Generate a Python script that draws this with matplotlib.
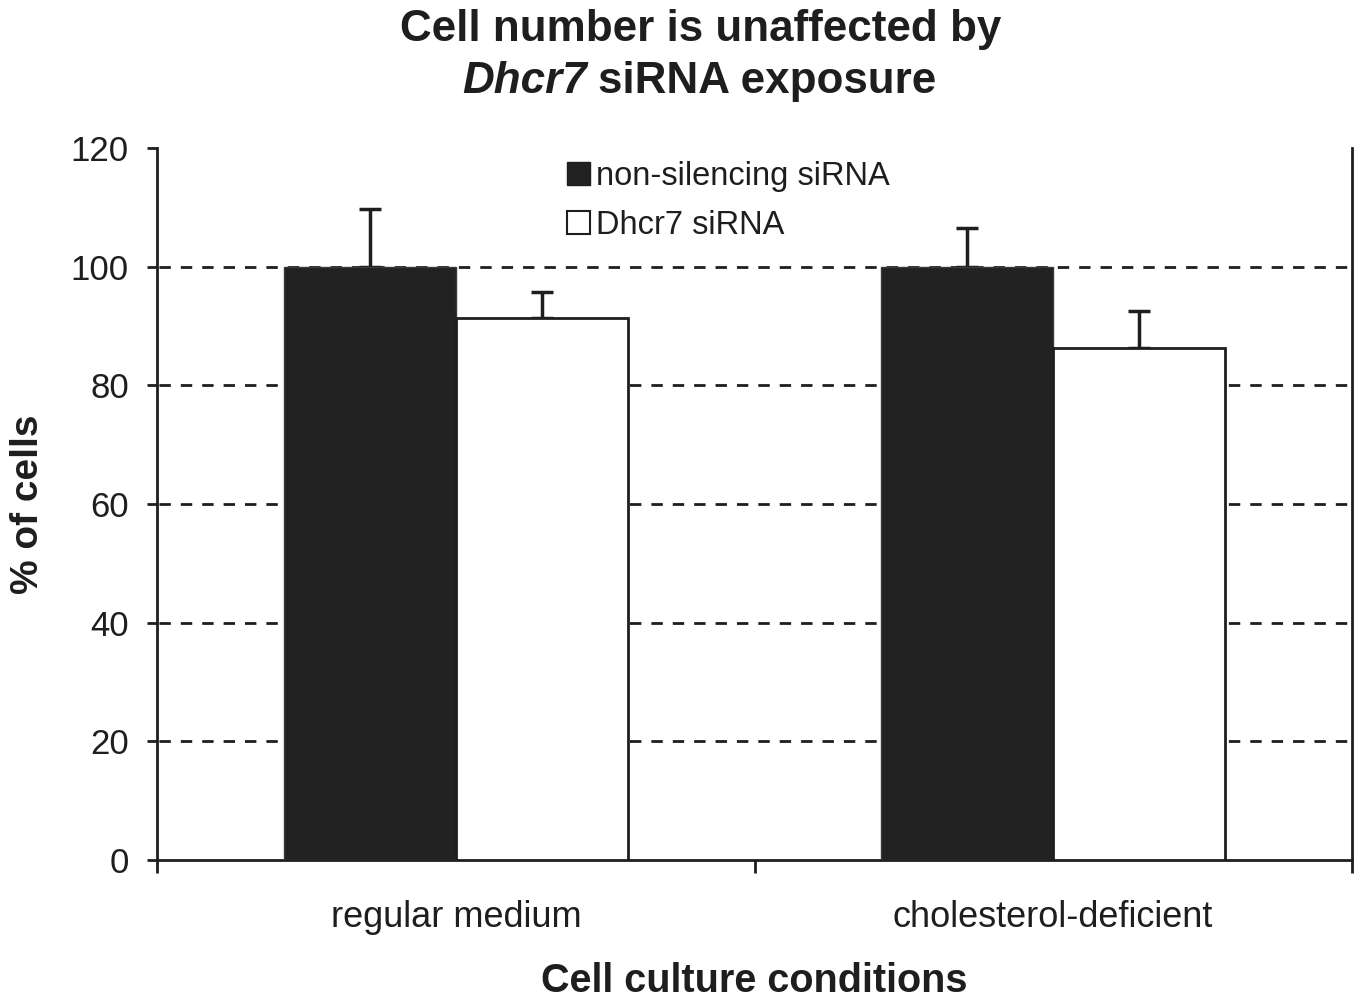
import matplotlib
matplotlib.use("Agg")
import matplotlib.pyplot as plt
from matplotlib.patches import Patch
import numpy as np

# values (% of cells)
conditions = ["regular medium", "cholesterol-deficient"]
series_names = ["non-silencing siRNA", "Dhcr7 siRNA"]
nonsilencing = [100.0, 100.0]
nonsilencing_err = [9.8, 6.6]
dhcr7 = [91.3, 86.3]
dhcr7_err = [4.4, 6.3]
yticks = [0, 20, 40, 60, 80, 100, 120]

plt.rcParams['font.family'] = ['Liberation Sans', 'DejaVu Sans']
ink = '#1e1e1e'
bar_black = '#222222'

fig = plt.figure(figsize=(13.6, 10.02), dpi=100)
ax = fig.add_axes([157.3/1360, 1-860/1002, (1351.7-157.3)/1360, (860-148)/1002])

x = np.arange(len(conditions)) + 0.5
w = 0.288

ax.bar(x - w/2, nonsilencing, w, color=bar_black, edgecolor='#3a3a3a', linewidth=1, zorder=3,
       yerr=[[0]*len(x), nonsilencing_err], capsize=8,
       error_kw=dict(ecolor=ink, elinewidth=2.5, capthick=2.5, zorder=2))
ax.bar(x + w/2, dhcr7, w, color='white', edgecolor=ink, linewidth=2, zorder=3,
       yerr=[[0]*len(x), dhcr7_err], capsize=8,
       error_kw=dict(ecolor=ink, elinewidth=2.5, capthick=2.5, zorder=2))

# dashed gridlines (not at the top)
for yv in yticks[1:-1]:
    ax.axhline(yv, color=ink, linewidth=2, linestyle=(7, (4.1, 3.6)), zorder=1)

ax.set_xlim(0, 2)
ax.set_ylim(0, 120)
ax.set_yticks(yticks)
ax.tick_params(axis='y', direction='out', length=7.5, width=2, pad=13,
               labelsize=25, colors=ink)
ax.set_xticks([0, 1, 2])
ax.set_xticklabels([])
ax.tick_params(axis='x', which='major', direction='out', length=9, width=2, colors=ink)
ax.set_xticks(x, minor=True)
ax.set_xticklabels(conditions, minor=True)
ax.tick_params(axis='x', which='minor', length=0, pad=29, labelsize=26, colors=ink)

for side in ['left', 'bottom', 'right']:
    ax.spines[side].set_linewidth(2)
    ax.spines[side].set_color(ink)
ax.spines['top'].set_visible(False)

ax.set_ylabel('% of cells', fontsize=28, fontweight='bold', color=ink, labelpad=18)
ax.set_xlabel('Cell culture conditions', fontsize=28.5, fontweight='bold', color=ink, labelpad=19)

handles = [Patch(facecolor=bar_black, edgecolor=ink, linewidth=1),
           Patch(facecolor='white', edgecolor=ink, linewidth=1.5)]
leg = ax.legend(handles, series_names, loc='upper left',
                bbox_to_anchor=(567/1360, 1-161/1002), bbox_transform=fig.transFigure,
                frameon=False, fontsize=23.5, handlelength=0.7, handleheight=0.7,
                handletextpad=0.2, labelspacing=0.56, borderpad=0, borderaxespad=0)
for t in leg.get_texts():
    t.set_color(ink)

fig.text(0.5155, 1-29/1002, 'Cell number is unaffected by', ha='center', va='center',
         fontsize=31.7, fontweight='bold', color=ink)
fig.text(587/1360, 1-82/1002, 'Dhcr7', ha='right', va='center',
         fontsize=31.7, fontweight='bold', fontstyle='italic', color=ink)
fig.text(598/1360, 1-82/1002, 'siRNA exposure', ha='left', va='center',
         fontsize=31.7, fontweight='bold', color=ink)

fig.savefig('out.png', dpi=100)
